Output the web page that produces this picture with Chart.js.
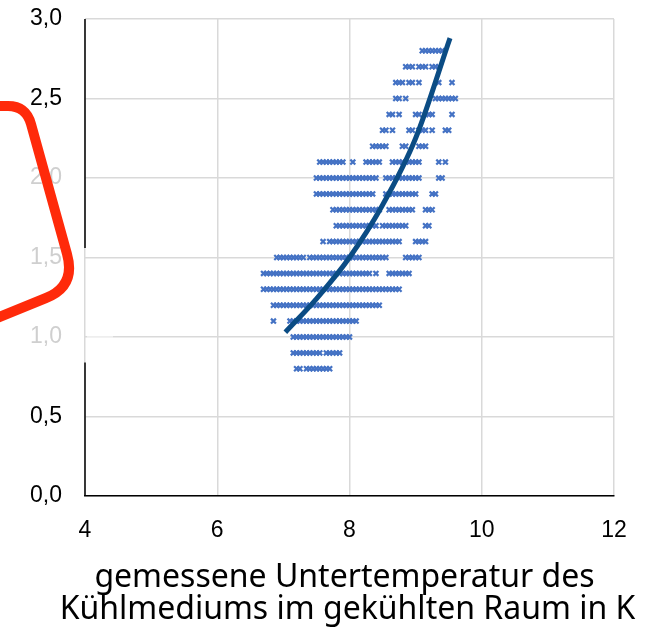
<!DOCTYPE html>
<html>
<head>
<meta charset="utf-8">
<script src="https://cdn.jsdelivr.net/npm/chart.js@4.4.1/dist/chart.umd.min.js"></script>
<style>
  html, body { margin: 0; padding: 0; background: #fff; }
  canvas { display: block; }
</style>
</head>
<body>
<canvas id="chartCanvas" width="647" height="631"></canvas>
<script>
// measured values, one array of x values per row (y level)
const rowLevels = [0.8, 0.9, 1.0, 1.1, 1.2, 1.3, 1.4, 1.5, 1.6, 1.7, 1.8, 1.9, 2.0, 2.1, 2.2, 2.3, 2.4, 2.5, 2.6, 2.7, 2.8];

const xRow08 = [7.20,7.25,7.35,7.40,7.45,7.50,7.55,7.60,7.65,7.70];
const xRow09 = [7.15,7.20,7.25,7.30,7.35,7.40,7.45,7.50,7.55,7.65,7.70,7.75,7.80,7.85];
const xRow10 = [7.15,7.20,7.25,7.30,7.35,7.40,7.45,7.50,7.55,7.60,7.65,7.70,7.75,7.80,7.85,7.90,7.95,8.00];
const xRow11 = [6.85,7.10,7.15,7.20,7.25,7.30,7.35,7.40,7.45,7.50,7.55,7.60,7.65,7.70,7.75,7.80,7.85,7.90,7.95,8.00,8.05,8.10];
const xRow12 = [6.85,6.90,6.95,7.00,7.05,7.10,7.15,7.20,7.25,7.30,7.35,7.40,7.45,7.50,7.55,7.60,7.65,7.70,7.75,7.80,7.85,7.90,7.95,8.00,8.05,8.10,8.15,8.20,8.25,8.30,8.35,8.40,8.45];
const xRow13 = [6.70,6.75,6.80,6.85,6.90,6.95,7.00,7.05,7.10,7.15,7.20,7.25,7.30,7.35,7.40,7.45,7.50,7.55,7.60,7.65,7.70,7.75,7.80,7.85,7.90,7.95,8.00,8.05,8.10,8.15,8.20,8.25,8.30,8.35,8.40,8.45,8.50,8.55,8.60,8.65,8.70,8.75];
const xRow14 = [6.70,6.75,6.80,6.85,6.90,6.95,7.00,7.05,7.10,7.15,7.20,7.25,7.30,7.35,7.40,7.45,7.50,7.55,7.60,7.65,7.70,7.75,7.80,7.85,7.90,7.95,8.00,8.05,8.10,8.15,8.20,8.25,8.30,8.40,8.60,8.65,8.70,8.75,8.80,8.85,8.90];
const xRow15 = [6.90,6.95,7.00,7.05,7.10,7.15,7.20,7.25,7.30,7.40,7.45,7.50,7.55,7.60,7.65,7.70,7.75,7.80,7.85,7.90,7.95,8.00,8.05,8.10,8.15,8.20,8.25,8.30,8.35,8.40,8.45,8.50,8.55,8.85,8.90,8.95,9.00,9.05];
const xRow16 = [7.60,7.70,7.75,7.80,7.85,7.90,7.95,8.00,8.05,8.10,8.15,8.20,8.25,8.30,8.35,8.40,8.45,8.50,8.55,8.60,8.65,8.70,8.75,9.00,9.05,9.10,9.15];
const xRow17 = [7.80,7.85,7.90,7.95,8.00,8.05,8.10,8.15,8.20,8.25,8.30,8.35,8.40,8.50,8.55,8.60,8.65,8.70,8.75,8.80,8.85,9.15,9.20];
const xRow18 = [7.75,7.80,7.85,7.90,7.95,8.00,8.05,8.10,8.15,8.20,8.25,8.30,8.35,8.40,8.45,8.60,8.65,8.70,8.75,8.80,8.85,8.90,8.95,9.15,9.20,9.25];
const xRow19 = [7.50,7.55,7.60,7.65,7.70,7.75,7.80,7.85,7.90,7.95,8.00,8.05,8.10,8.15,8.20,8.25,8.30,8.35,8.55,8.60,8.65,8.70,8.75,8.80,8.85,8.90,8.95,9.00,9.25,9.30];
const xRow20 = [7.50,7.55,7.60,7.65,7.70,7.75,7.80,7.85,7.90,7.95,8.00,8.05,8.10,8.15,8.20,8.25,8.30,8.35,8.40,8.55,8.60,8.65,8.70,8.75,8.80,8.85,8.90,8.95,9.00,9.05,9.35,9.40];
const xRow21 = [7.55,7.60,7.65,7.70,7.75,7.80,7.85,7.90,8.05,8.25,8.30,8.35,8.40,8.45,8.65,8.70,8.75,8.80,8.85,8.90,8.95,9.00,9.05,9.35,9.45];
const xRow22 = [8.35,8.40,8.45,8.50,8.55,8.80,8.85,9.05,9.10,9.15];
const xRow23 = [8.50,8.55,8.65,8.90,8.95,9.05,9.10,9.15,9.25,9.45,9.50];
const xRow24 = [8.60,8.65,8.75,9.00,9.05,9.15,9.20,9.25,9.55];
const xRow25 = [8.70,8.75,8.85,9.30,9.35,9.40,9.45,9.50,9.55,9.60];
const xRow26 = [8.70,8.75,8.80,8.90,8.95,9.05,9.35,9.55];
const xRow27 = [8.85,8.90,8.95,9.05,9.10,9.15,9.25,9.30,9.35];
const xRow28 = [9.10,9.15,9.20,9.25,9.30,9.35,9.40];

const rowX = [xRow08, xRow09, xRow10, xRow11, xRow12, xRow13, xRow14, xRow15, xRow16, xRow17, xRow18,
              xRow19, xRow20, xRow21, xRow22, xRow23, xRow24, xRow25, xRow26, xRow27, xRow28];

// trend curve
const trendX = [7.03, 7.5, 8.0, 8.5, 9.0, 9.52];
const trendY = [1.03, 1.24, 1.50, 1.83, 2.25, 2.88];

// axis ticks
const xTicks = [4, 6, 8, 10, 12];
const yTicks = [0, 0.5, 1.0, 1.5, 2.0, 2.5, 3.0];
const fadedYTicks = [1.0, 1.5, 2.0];

const titleLines = ['gemessene Untertemperatur des', 'Kühlmediums im gekühlten Raum in K'];

const scatterPoints = rowX.flatMap((xs, i) => xs.map(x => ({ x: x, y: rowLevels[i] })));
const trendPoints = trendX.map((x, i) => ({ x: x, y: trendY[i] }));

// y axis line (black, with the washed out part), axis title and the red marker on the left
const overlayPlugin = {
    id: 'overlay',
    afterDraw(chart) {
        const ctx = chart.ctx;
        const xs = chart.scales.x;
        const ys = chart.scales.y;
        const left = xs.getPixelForValue(4);

        ctx.save();
        ctx.lineWidth = 1.5;
        ctx.strokeStyle = '#000';
        ctx.beginPath();
        ctx.moveTo(left, ys.getPixelForValue(3.0));
        ctx.lineTo(left, ys.getPixelForValue(1.56));
        ctx.moveTo(left, ys.getPixelForValue(0.84));
        ctx.lineTo(left, ys.getPixelForValue(0));
        ctx.stroke();

        // washed out piece of the 1,0 grid line
        ctx.strokeStyle = '#f4f4f4';
        ctx.beginPath();
        const y1 = ys.getPixelForValue(1.0);
        ctx.moveTo(left + 2, y1);
        ctx.lineTo(left + 28, y1);
        ctx.stroke();

        // x axis title, two lines centred under the plot
        const cx = (chart.chartArea.left + chart.chartArea.right) / 2 - 2;
        ctx.fillStyle = '#000';
        ctx.font = '32px "Noto Sans", sans-serif';
        ctx.textAlign = 'center';
        ctx.textBaseline = 'middle';
        ctx.fillText(titleLines[0], cx - 3, 578);
        ctx.fillText(titleLines[1], cx, 610);

        // red hand drawn frame
        ctx.strokeStyle = '#ff2a0a';
        ctx.lineWidth = 10;
        ctx.lineJoin = 'round';
        ctx.lineCap = 'round';
        ctx.beginPath();
        ctx.moveTo(-8, 106);
        ctx.lineTo(8, 106);
        ctx.quadraticCurveTo(26, 106, 31, 124);
        ctx.lineTo(67, 254);
        ctx.quadraticCurveTo(76, 286, 46, 298);
        ctx.lineTo(-8, 320);
        ctx.stroke();
        ctx.restore();
    }
};

const tickFont = { family: '"Liberation Sans", Arial, sans-serif', size: 23 };

const ctx = document.getElementById('chartCanvas').getContext('2d');

new Chart(ctx, {
    type: 'scatter',
    data: {
        datasets: [
            {
                label: 'Trend',
                data: trendPoints,
                showLine: true,
                borderColor: '#0b4c84',
                borderWidth: 5,
                pointRadius: 0,
                cubicInterpolationMode: 'monotone',
                order: 0
            },
            {
                label: 'Messwerte',
                data: scatterPoints,
                pointStyle: 'crossRot',
                pointRadius: 3.5,
                borderWidth: 2.2,
                borderColor: '#4472c4',
                backgroundColor: '#4472c4',
                order: 1
            }
        ]
    },
    plugins: [overlayPlugin],
    options: {
        responsive: false,
        animation: false,
        devicePixelRatio: 1,
        layout: { padding: { left: 0, right: 33, top: 19, bottom: 0 } },
        plugins: {
            legend: { display: false },
            tooltip: { enabled: false }
        },
        scales: {
            x: {
                type: 'linear',
                min: 4,
                max: 12,
                afterBuildTicks: scale => { scale.ticks = xTicks.map(v => ({ value: v })); },
                afterFit: scale => {
                    scale.height = 135;
                    scale.paddingLeft = 0;
                    scale.paddingRight = 0;
                },
                ticks: {
                    color: '#000',
                    padding: 21,
                    font: tickFont,
                    callback: v => String(v)
                },
                grid: { color: '#d9d9d9', lineWidth: 1.5, drawTicks: false },
                border: { color: '#000', width: 1.5 }
            },
            y: {
                type: 'linear',
                min: 0,
                max: 3,
                afterBuildTicks: scale => { scale.ticks = yTicks.map(v => ({ value: v })); },
                afterFit: scale => {
                    scale.width = 85;
                    scale.paddingTop = 0;
                    scale.paddingBottom = 0;
                },
                ticks: {
                    padding: 23,
                    font: tickFont,
                    color: c => fadedYTicks.includes(c.tick.value) ? '#cfcfcf' : '#000',
                    callback: v => v.toFixed(1).replace('.', ',')
                },
                grid: { color: '#d9d9d9', lineWidth: 1.5, drawTicks: false },
                border: { display: false }
            }
        }
    }
});
</script>
</body>
</html>
